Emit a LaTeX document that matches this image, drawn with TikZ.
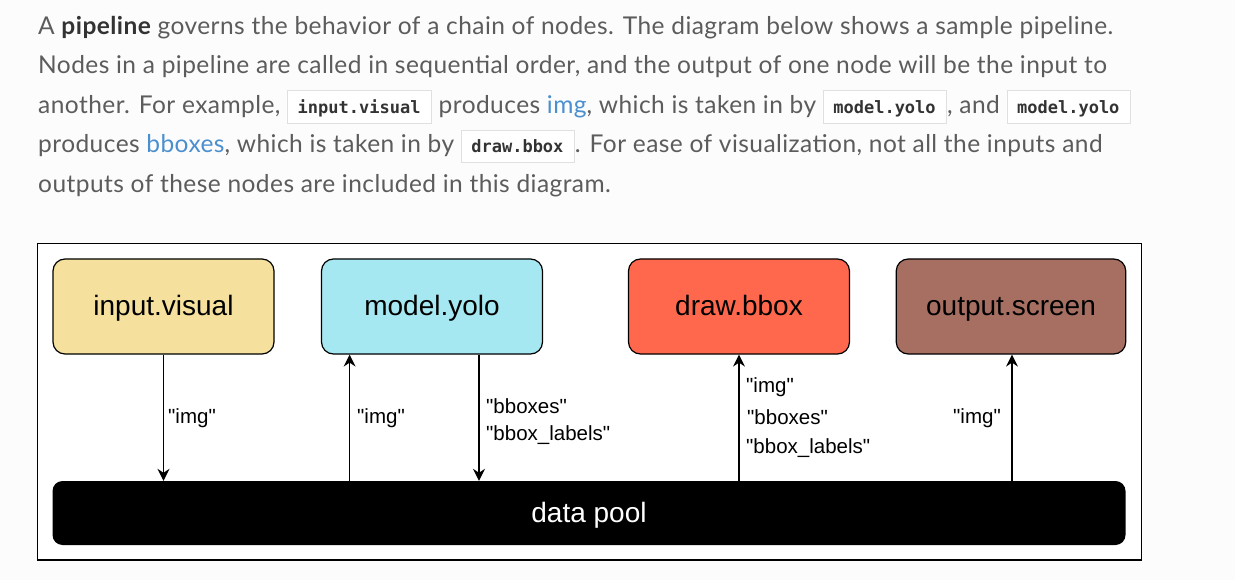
\documentclass[tikz,border=0pt]{standalone}
\usepackage{fontspec}
\setmainfont{Lato}[LetterSpace=1.8]
\newfontfamily\arialfont{Liberation Sans}
\newfontfamily\codefont{DejaVu Sans Mono}
\usetikzlibrary{arrows.meta}
\definecolor{pagebg}{HTML}{FCFCFC}
\definecolor{bodytext}{HTML}{5C5C5C}
\definecolor{strongtext}{HTML}{333333}
\definecolor{linkblue}{HTML}{4A8FCF}
\definecolor{codeborder}{HTML}{E0E0E0}
\definecolor{codetext}{HTML}{333333}
\definecolor{yellowbox}{HTML}{F5E09D}
\definecolor{cyanbox}{HTML}{A6E8F1}
\definecolor{redbox}{HTML}{FF684C}
\definecolor{brownbox}{HTML}{A66F62}
\newcommand{\codebox}[1]{{\setlength{\fboxsep}{0pt}\setlength{\fboxrule}{1pt}\fcolorbox{codeborder}{white}{\rule[-9.5pt]{0pt}{31.5pt}\hspace{9.5pt}{\codefont\bfseries\fontsize{17}{20}\selectfont\color{codetext}#1}\hspace{10.5pt}}}}
\tikzset{
  para/.style={anchor=base west, inner sep=0pt, text=bodytext, font=\fontsize{24.5}{28}\selectfont},
  block/.style={draw=black, line width=1.2pt, rounded corners=12pt, minimum width=221pt, minimum height=95pt, inner sep=0pt, text height=23pt, text depth=5pt, font=\arialfont\fontsize{28}{32}\selectfont, text=black},
  pool/.style={fill=black, rounded corners=10pt, minimum width=1073pt, minimum height=64pt, inner sep=0pt, text height=23pt, text depth=5pt, font=\arialfont\fontsize{28}{32}\selectfont, text=white},
  lbl/.style={anchor=west, inner sep=0pt, font=\arialfont\fontsize{20.5}{24}\selectfont, text=black},
  arr/.style={draw=black, line width=1.2pt, -{Stealth[length=12pt,width=12pt,inset=4pt]}},
}
\begin{document}
\begin{tikzpicture}[x=1pt,y=-1pt]
\fill[pagebg] (0,0) rectangle (1235,580);
\useasboundingbox (0,0) rectangle (1235,580);
% paragraph
\node[para] (l1) at (38,35) {A {\bfseries\color{strongtext}pipeline} governs the behavior of a chain of nodes. The diagram below shows a sample pipeline.};
\node[para] (l2) at (38,74) {Nodes in a pipeline are called in sequential order, and the output of one node will be the input to};
\node[para] (l3) at (38,113.5) {another. For example, \codebox{input.visual} produces {\color{linkblue}img}, which is taken in by \codebox{model.yolo}, and \codebox{model.yolo}};
\node[para] (l4) at (38,153) {produces {\color{linkblue}bboxes}, which is taken in by \codebox{draw.bbox}. For ease of visualization, not all the inputs and};
\node[para] (l5) at (38,192.5) {outputs of these nodes are included in this diagram.};
% diagram frame
\node[draw=black, fill=white, line width=1.4pt, minimum width=1104pt, minimum height=316.5pt, inner sep=0pt] (frame) at (589.5,401.75) {};
% blocks
\node[block, fill=yellowbox] (iv) at (163.5,306.5) {input.visual};
\node[block, fill=cyanbox] (my) at (432,306.5) {model.yolo};
\node[block, fill=redbox] (db) at (739,306.5) {draw.bbox};
\node[block, fill=brownbox, minimum width=229.5pt] (os) at (1011,306.5) {output.screen};
\node[pool] (dp) at (589,513) {data pool};
% connector x positions
\coordinate (c1) at (163.5,0);
\coordinate (c2) at (349.6,0);
\coordinate (c3) at (479,0);
\coordinate (c4) at (739,0);
\coordinate (c5) at (1012,0);
\draw[arr] (iv.south -| c1) -- (dp.north -| c1);
\draw[arr] (dp.north -| c2) -- (my.south -| c2);
\draw[arr] (my.south -| c3) -- (dp.north -| c3);
\draw[arr] (dp.north -| c4) -- (db.south -| c4);
\draw[arr] (dp.north -| c5) -- (os.south -| c5);
% labels
\node[lbl] (t1) at (168,418) {"img"};
\node[lbl] (t2) at (357,418) {"img"};
\node[lbl] (t3a) at (486,406) {"bboxes"};
\node[lbl] (t3b) at (486,435) {"bbox\_labels"};
\node[lbl] (t4a) at (746,387) {"img"};
\node[lbl] (t4b) at (747,417) {"bboxes"};
\node[lbl] (t4c) at (746,448) {"bbox\_labels"};
\node[lbl] (t5) at (953,418) {"img"};
\end{tikzpicture}
\end{document}
